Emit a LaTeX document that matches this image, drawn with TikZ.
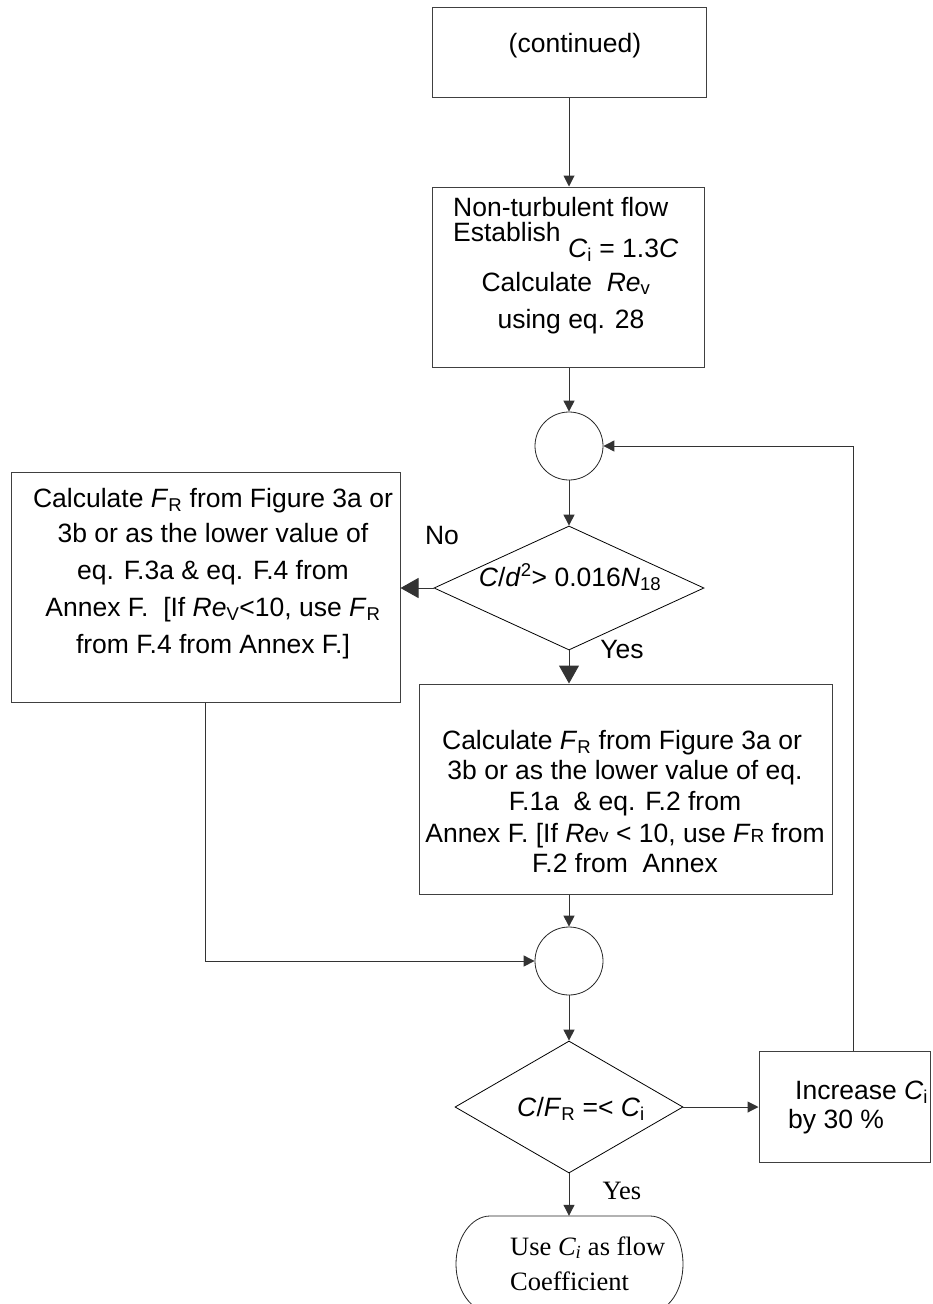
\documentclass[tikz,border=0pt]{standalone}
\usepackage{fontspec}
\setmainfont{Liberation Sans}
\newfontfamily\timesf{Liberation Serif}
\usetikzlibrary{shapes.geometric,arrows.meta,calc}
\begin{document}
\begin{tikzpicture}[x=1pt,y=-1pt,
  box/.style={rectangle, draw=black!75, line width=1pt, inner sep=0pt},
  junc/.style={circle, draw=black!85, line width=0.8pt, minimum size=68pt, inner sep=0pt},
  dec/.style={diamond, draw=black, line width=0.8pt, inner sep=0pt},
  arr/.style={draw=black!80, line width=1pt, -{Triangle[length=11pt,width=11pt]}},
  bigarr/.style={draw=black!80, line width=1pt, -{Triangle[length=18pt,width=20pt]}},
  txt/.style={inner sep=0pt, anchor=base, font=\fontsize{26.5}{30}\selectfont},
  ttxt/.style={inner sep=0pt, anchor=base west, font=\timesf\fontsize{26.5}{30}\selectfont}]
\clip (0,0) rectangle (932,1304);
\fill[white] (0,0) rectangle (932,1304);

% boxes and shapes
\node[box, minimum width=274pt, minimum height=90pt] (top) at (569,52) {};
\node[box, minimum width=272pt, minimum height=180pt] (b2) at (568,277) {};
\node[junc] (c1) at (569,446) {};
\node[dec, minimum width=270pt, minimum height=124pt] (d1) at (569,588) {};
\node[box, minimum width=389pt, minimum height=230pt] (lb) at (205.5,587) {};
\node[box, minimum width=413pt, minimum height=210pt] (mb) at (625.5,789) {};
\node[junc] (c2) at (569,961) {};
\node[dec, minimum width=228pt, minimum height=132pt] (d2) at (569,1107) {};
\node[box, minimum width=171pt, minimum height=111pt] (inc) at (844.5,1106.5) {};
\node[rectangle, minimum width=227pt, minimum height=96pt, inner sep=0pt] (term) at (569.5,1264) {};
\draw[draw=black!85, line width=0.8pt]
  (490,1216) -- (650,1216)
  .. controls (668.5,1216) and (683,1237.5) .. (683,1264)
  .. controls (683,1290.5) and (668.5,1312) .. (650,1312)
  -- (490,1312)
  .. controls (471.5,1312) and (456,1290.5) .. (456,1264)
  .. controls (456,1237.5) and (471.5,1216) .. (490,1216) -- cycle;

% texts
\node[txt] (toptxt) at (575,52) {(continued)};

\node[txt, anchor=base west] (b2a) at (453,216) {Non-turbulent flow};
\node[txt, anchor=base west] (b2b) at (453,241) {Establish \raisebox{-16pt}{\textit{C}\textsubscript{i} = 1.3\textit{C}}};
\node[txt] (b2c) at (566,291) {Calculate\ \ \textit{Re}\textsubscript{v}};
\node[txt] (b2d) at (571,328) {using eq. 28};

\node[txt] (d1t) at (570,586) {\textit{C}/\textit{d}\textsuperscript{2}> 0.016\textit{N}\textsubscript{18}};
\node[txt] (no) at (442,544) {No};
\node[txt] (yes1) at (622,658) {Yes};

\node[txt] (lb1) at (213,507) {Calculate \textit{F}\textsubscript{R} from Figure 3a or};
\node[txt] (lb2) at (213,542) {3b or as the lower value of};
\node[txt] (lb3) at (213,579) {eq. F.3a \& eq. F.4 from};
\node[txt] (lb4) at (213,616) {Annex F.\ \ [If \textit{Re}\textsubscript{V}<10, use \textit{F}\textsubscript{R}};
\node[txt] (lb5) at (213,653) {from F.4 from Annex F.]};

\node[txt] (mb1) at (622,749) {Calculate \textit{F}\textsubscript{R} from Figure 3a or};
\node[txt] (mb2) at (625,779.5) {3b or as the lower value of eq.};
\node[txt] (mb3) at (625,810) {F.1a\ \ \& eq. F.2 from};
\node[txt] (mb4) at (625,842) {Annex F. [If \textit{Re}{\fontsize{19}{20}\selectfont v} < 10, use \textit{F}{\fontsize{19}{20}\selectfont R} from};
\node[txt] (mb5) at (625,872) {F.2 from\ \ Annex};

\node[txt] (d2t) at (581,1116) {\textit{C}/\textit{F}\textsubscript{R} =< \textit{C}\textsubscript{i}};

\node[txt, anchor=base west] (inct1) at (795,1099) {Increase \textit{C}\textsubscript{i}};
\node[txt, anchor=base west] (inct2) at (788,1128) {by 30 \%};

\node[ttxt, anchor=base] (yes2) at (622,1199) {Yes};
\node[ttxt] (termt1) at (510,1255) {Use \textit{C\textsubscript{i}} as flow};
\node[ttxt] (termt2) at (510,1290) {Coefficient};

\coordinate (loop) at (853,446);

% connectors
\draw[arr] (top.south -| c1) -- (b2.north -| c1);
\draw[arr] (b2.south -| c1) -- (c1.north);
\draw[arr] (c1.south) -- (d1.north);
\draw[bigarr] (d1.west) -- (lb.east |- d1.west);
\draw[bigarr] (d1.south) -- (mb.north -| d1.south);
\draw[arr] (mb.south -| c2) -- (c2.north);
\draw[arr] (lb.south) |- (c2.west);
\draw[arr] (c2.south) -- (d2.north);
\draw[arr] (d2.east) -- (inc.west |- d2.east);
\draw[arr] (inc.north -| loop) -- (loop) -- (c1.east);
\draw[arr] (d2.south) -- (term.north -| d2.south);
\end{tikzpicture}
\end{document}
